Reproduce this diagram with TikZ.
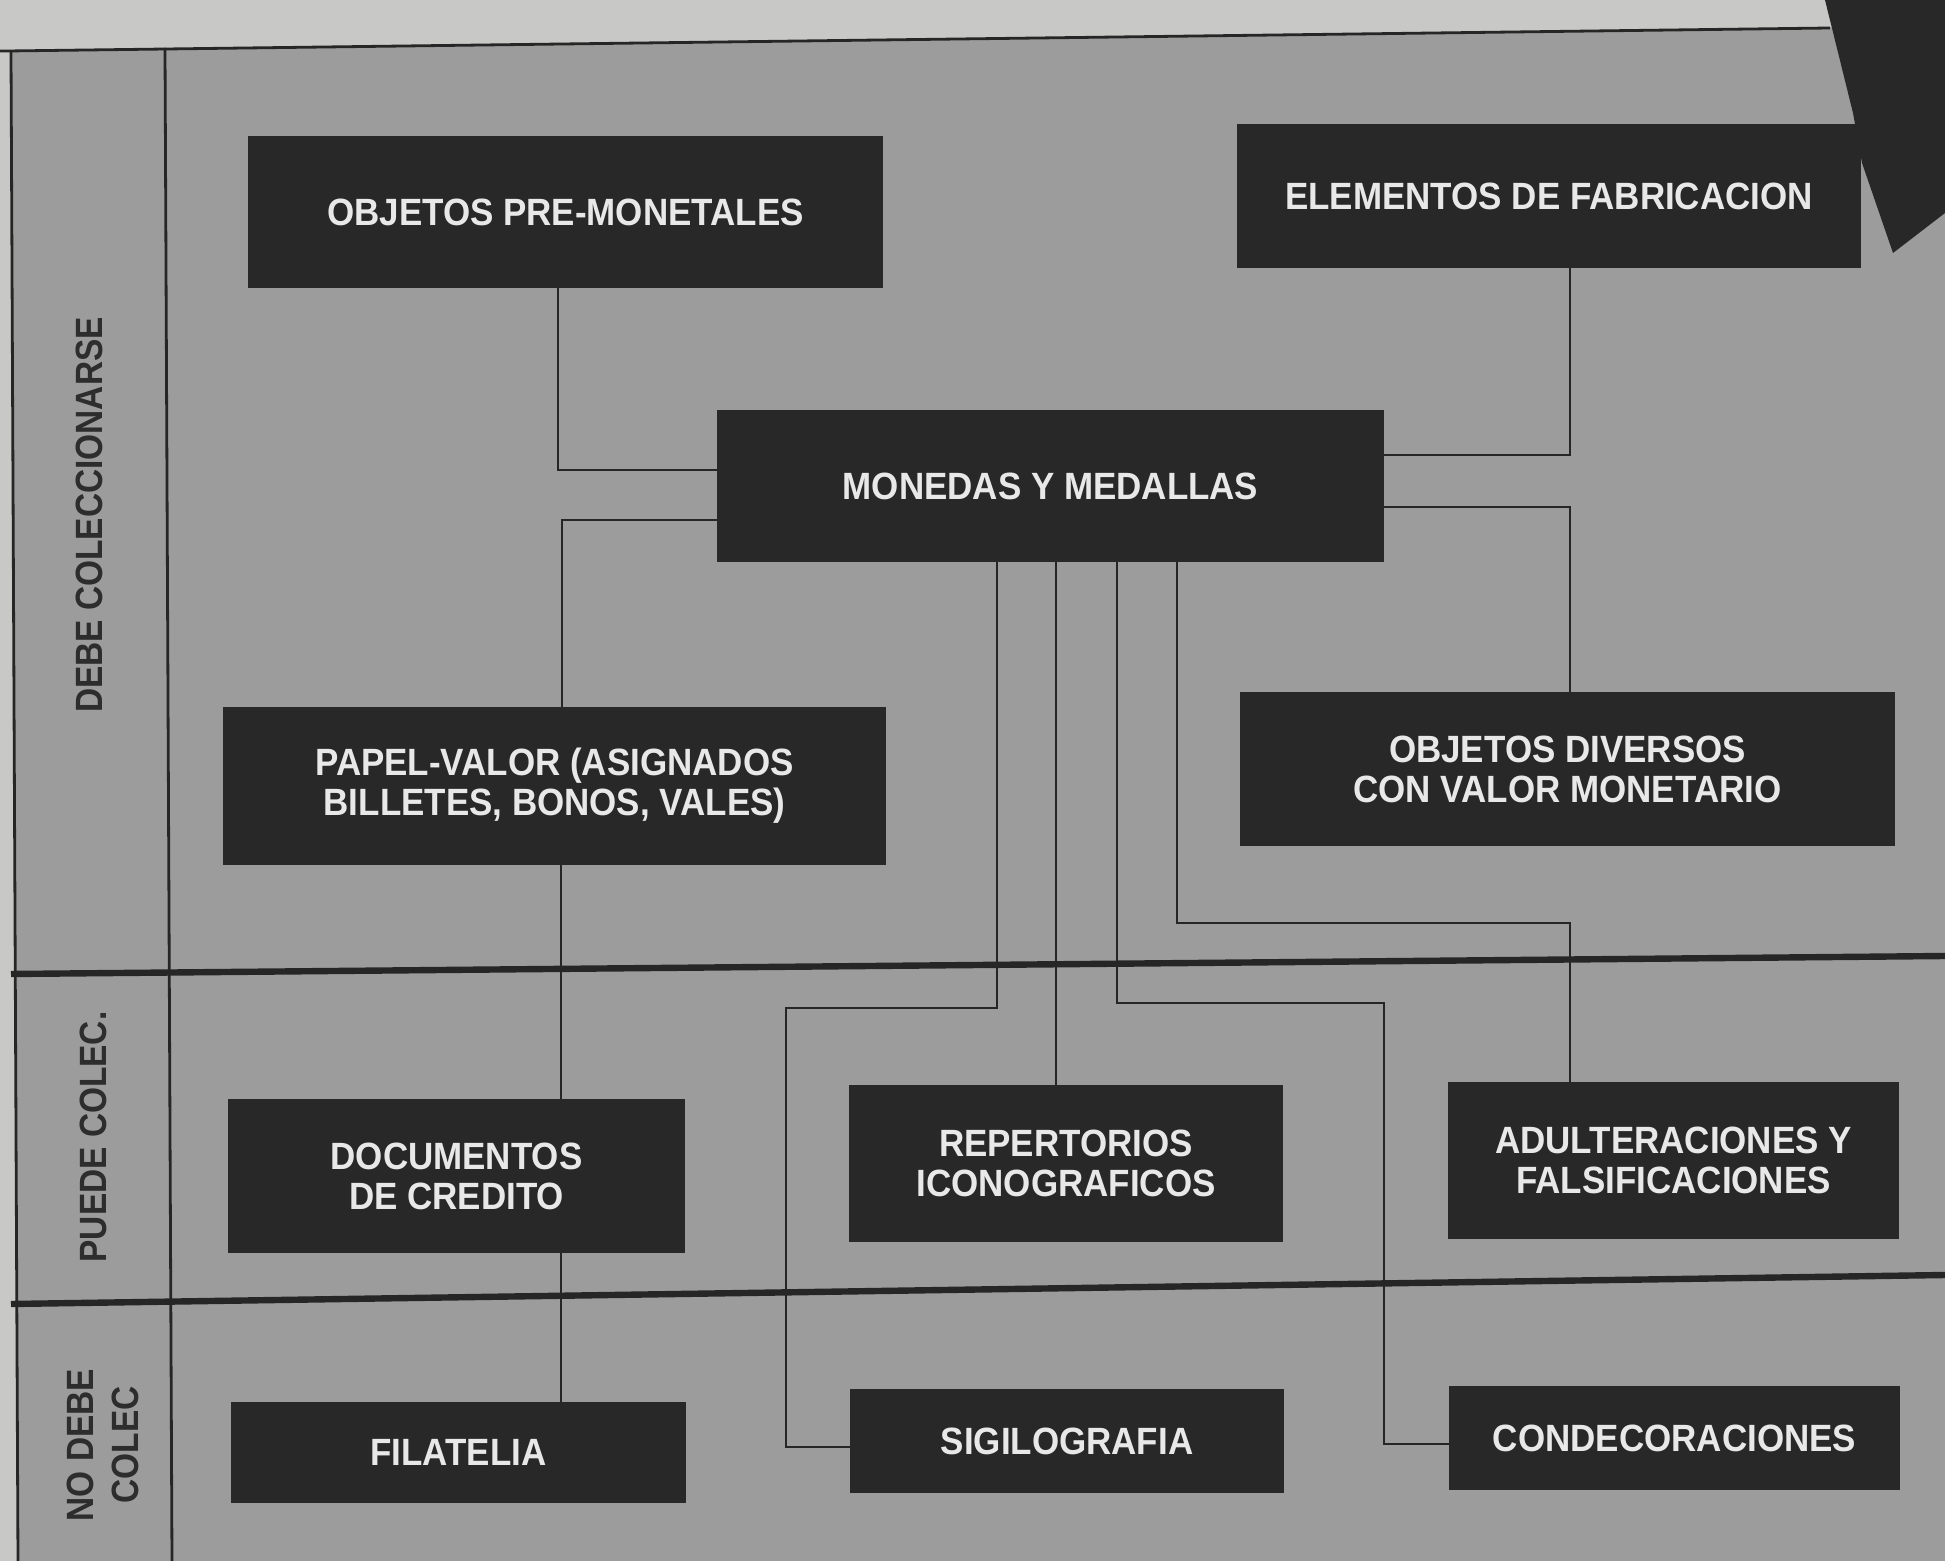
\documentclass[tikz,border=0pt]{standalone}
\usepackage{fontspec}
\newfontfamily\boxfont{Liberation Sans}[FakeStretch=0.92]
\newfontfamily\labfont{Liberation Sans}[FakeStretch=0.88]
\definecolor{paper}{RGB}{200,200,198}
\definecolor{halft}{RGB}{156,156,156}
\definecolor{boxc}{RGB}{40,40,40}
\definecolor{txtc}{RGB}{232,232,232}
\definecolor{linec}{RGB}{38,38,38}
\definecolor{labc}{RGB}{45,45,45}
\tikzset{
  bx/.style={rectangle, fill=boxc, text=txtc, inner sep=0pt, align=center,
    font=\boxfont\bfseries\fontsize{19}{20}\selectfont},
  conn/.style={draw=linec, line width=1.3pt},
  sepline/.style={draw=linec, line width=3.2pt},
  frameline/.style={draw=linec, line width=1.4pt},
  lab/.style={text=labc, rotate=90, align=center, inner sep=0pt,
    font=\labfont\bfseries\fontsize{19}{22.5}\selectfont},
}
\begin{document}
\begin{tikzpicture}[x=0.5pt,y=-0.5pt]
\useasboundingbox (0,0) rectangle (1945,1561);
\clip (0,0) rectangle (1945,1561);
% background
\fill[paper] (0,0) rectangle (1945,1561);
\fill[halft] (11,51) -- (1945,26) -- (1945,1561) -- (18,1561) -- cycle;
% torn dark corner
\fill[boxc] (1825,0) -- (1945,0) -- (1945,213) -- (1893,253) -- (1862,163) -- (1853,113) -- cycle;
% frame
\draw[frameline] (0,51.1) -- (1830,28);
\draw[frameline] (11,51) -- (18,1561);
\draw[frameline] (165,48) -- (172,1561);
\draw[sepline] (11,974) -- (1945,956);
\draw[sepline] (11,1304) -- (1945,1275);
% row labels
\node[lab] (l1) at (89,515) {DEBE COLECCIONARSE};
\node[lab] (l2) at (93,1137) {PUEDE COLEC.};
\node[lab] (l3) at (103,1445) {NO DEBE\\COLEC};
% boxes
\node[bx, minimum width=317.5pt, minimum height=76pt] (prem) at (565.5,212) {OBJETOS PRE-MONETALES};
\node[bx, minimum width=312pt, minimum height=72pt] (elem) at (1549,196) {ELEMENTOS DE FABRICACION};
\node[bx, minimum width=333.5pt, minimum height=76pt] (mon) at (1050.5,486) {MONEDAS Y MEDALLAS};
\node[bx, minimum width=331.5pt, minimum height=79pt] (pap) at (554.5,786) {PAPEL-VALOR (ASIGNADOS\\BILLETES, BONOS, VALES)};
\node[bx, minimum width=327.5pt, minimum height=77pt] (div) at (1567.5,769) {OBJETOS DIVERSOS\\CON VALOR MONETARIO};
\node[bx, minimum width=228.5pt, minimum height=77pt] (doc) at (456.5,1176) {DOCUMENTOS\\DE CREDITO};
\node[bx, minimum width=217pt, minimum height=78.5pt] (rep) at (1066,1163.5) {REPERTORIOS\\ICONOGRAFICOS};
\node[bx, minimum width=225.5pt, minimum height=78.5pt] (adu) at (1673.5,1160.5) {ADULTERACIONES Y\\FALSIFICACIONES};
\node[bx, minimum width=227.5pt, minimum height=50.5pt] (fil) at (458.5,1452.5) {FILATELIA};
\node[bx, minimum width=217pt, minimum height=52pt] (sig) at (1067,1441) {SIGILOGRAFIA};
\node[bx, minimum width=225.5pt, minimum height=52pt] (con) at (1674.5,1438) {CONDECORACIONES};
% bend points
\coordinate (k1) at (558,470);
\coordinate (k2) at (562,520);
\coordinate (k3) at (561,0);
\coordinate (k5) at (1570,455);
\coordinate (k6) at (1570,507);
\coordinate (k7a) at (997,1008);
\coordinate (k7b) at (786,1447);
\coordinate (k8) at (1056,0);
\coordinate (k9a) at (1117,1003);
\coordinate (k9b) at (1384,1444);
\coordinate (k10) at (1177,923);
\coordinate (k10b) at (1570,0);
% connectors
\draw[conn] (prem.south -| k1) |- (mon.west |- k1);
\draw[conn] (mon.west |- k2) -| (pap.north -| k2);
\draw[conn] (pap.south -| k3) -- (doc.north -| k3);
\draw[conn] (doc.south -| k3) -- (fil.north -| k3);
\draw[conn] (elem.south -| k5) |- (mon.east |- k5);
\draw[conn] (mon.east |- k6) -| (div.north -| k6);
\draw[conn] (mon.south -| k7a) -- (k7a) -| (k7b) -- (sig.west |- k7b);
\draw[conn] (mon.south -| k8) -- (rep.north -| k8);
\draw[conn] (mon.south -| k9a) -- (k9a) -| (k9b) -- (con.west |- k9b);
\draw[conn] (mon.south -| k10) -- (k10) -| (adu.north -| k10b);
\end{tikzpicture}
\end{document}
